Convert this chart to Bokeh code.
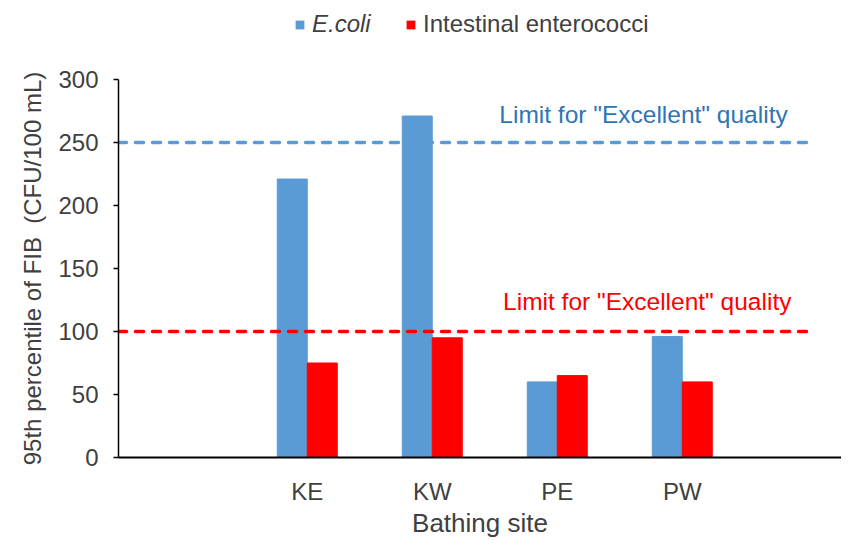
import numpy as np
from bokeh.plotting import figure
from bokeh.layouts import column
from bokeh.models import Range1d, FixedTicker, Legend, LegendItem, Label
from bokeh.embed import file_html
from bokeh.resources import INLINE

# ---- data ----
sites = ["KE", "KW", "PE", "PW"]
ecoli = [221, 271, 60, 96]
entero = [75, 95, 65, 60]
ecoli_limit = 250
entero_limit = 100
y_ticks = [0, 50, 100, 150, 200, 250, 300]
limit_text = 'Limit for "Excellent" quality'
series_names = ["E.coli", "Intestinal enterococci"]

FONT = "Liberation Sans"
TXT = "#404040"
BLUE = "#5B9BD5"
BLUE_TXT = "#2E75B6"
RED = "#FF0000"

W = 841
TOP_H = 40
MAIN_H = 500
frame_left = 118

# ---- legend strip on top (frames are aligned with the main chart) ----
top = figure(width=W, height=TOP_H, x_range=Range1d(0, 1), y_range=Range1d(0, 1),
             output_backend="svg", toolbar_location=None,
             x_axis_location=None, y_axis_location=None, min_border=0,
             min_border_left=frame_left)
top.outline_line_color = None
top.xgrid.visible = False
top.ygrid.visible = False
# zero-height proxies, used only for the legend swatches
d1 = top.vbar(x=[0.5], top=[0], bottom=[0], width=0.01, fill_color=BLUE, line_color=None)
d2 = top.vbar(x=[0.5], top=[0], bottom=[0], width=0.01, fill_color=RED, line_color=None)
common = dict(glyph_width=11, glyph_height=11, label_standoff=7, padding=0, margin=0, spacing=0,
              border_line_color=None, background_fill_alpha=0,
              label_text_font=FONT, label_text_font_size="24px", label_text_color=TXT)
leg1 = Legend(items=[LegendItem(label=series_names[0], renderers=[d1])], location=(294 - frame_left, 2),
              label_text_font_style="italic", **common)
leg2 = Legend(items=[LegendItem(label=series_names[1], renderers=[d2])], location=(405 - frame_left, 2),
              **common)
top.add_layout(leg1)
top.add_layout(leg2)

# ---- main chart ----
idx = np.arange(len(sites))
bw = 0.24
x_start = -1.51
x_end = x_start + (W - frame_left) / 125.0

p = figure(width=W, height=MAIN_H, x_range=Range1d(x_start, x_end), y_range=Range1d(0, 300),
           output_backend="svg", toolbar_location=None,
           min_border_left=frame_left, min_border_right=0, min_border_top=79 - TOP_H,
           min_border_bottom=81)
p.outline_line_color = None
p.xgrid.visible = False
p.ygrid.visible = False

r1 = p.vbar(x=idx - bw / 2, top=ecoli, width=bw, fill_color=BLUE, line_color=BLUE)
r2 = p.vbar(x=idx + bw / 2, top=entero, width=bw, fill_color=RED, line_color=RED)

p.segment(x0=[x_start], x1=[len(sites)], y0=[ecoli_limit], y1=[ecoli_limit],
          line_color=BLUE, line_width=3.5, line_dash="8 9", line_cap="round")
p.segment(x0=[x_start], x1=[len(sites)], y0=[entero_limit], y1=[entero_limit],
          line_color=RED, line_width=3.5, line_dash="8 9", line_cap="round")

p.add_layout(Label(x=2.69, y=272, text=limit_text, text_align="center", text_baseline="middle",
                   text_font=FONT, text_font_size="24.5px", text_color=BLUE_TXT))
p.add_layout(Label(x=2.72, y=124, text=limit_text, text_align="center", text_baseline="middle",
                   text_font=FONT, text_font_size="24.5px", text_color=RED))

xa = p.xaxis[0]
xa.ticker = FixedTicker(ticks=list(idx))
xa.major_label_overrides = {int(i): s for i, s in zip(idx, sites)}
xa.major_tick_line_color = None
xa.minor_tick_line_color = None
xa.axis_line_color = "black"
xa.axis_line_width = 2
xa.major_label_text_font = FONT
xa.major_label_text_font_size = "24px"
xa.major_label_text_color = TXT
xa.major_label_standoff = 14
xa.axis_label = "Bathing site"
xa.axis_label_text_font = FONT
xa.axis_label_text_font_size = "26px"
xa.axis_label_text_font_style = "normal"
xa.axis_label_text_color = TXT
xa.axis_label_standoff = 0

ya = p.yaxis[0]
ya.ticker = FixedTicker(ticks=y_ticks)
ya.major_tick_out = 5
ya.major_tick_in = 0
ya.minor_tick_line_color = None
ya.axis_line_color = "black"
ya.axis_line_width = 1.5
ya.major_tick_line_width = 1.5
ya.major_label_text_font = FONT
ya.major_label_text_font_size = "24px"
ya.major_label_text_color = TXT
ya.major_label_standoff = 15
ya.axis_label = "95th percentile of FIB \u00a0(CFU/100 mL)"
ya.axis_label_text_font = FONT
ya.axis_label_text_font_size = "24px"
ya.axis_label_text_font_style = "normal"
ya.axis_label_text_color = TXT
ya.axis_label_standoff = 9

layout = column(top, p, spacing=0)
open("out.html", "w").write(file_html(layout, INLINE))
